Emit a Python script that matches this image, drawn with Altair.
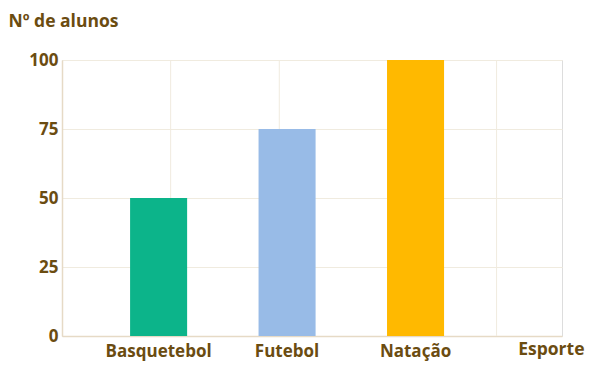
import altair as alt
import pandas as pd

sports = ["Basquetebol", "Futebol", "Natação"]
students = [50, 75, 100]
colors = ["#0cb48a", "#98bbe7", "#ffb900"]
y_ticks = [0, 25, 50, 75, 100]
grid_x = [1, 2, 3, 4]

df = pd.DataFrame({"Esporte": sports, "alunos": students})
grid_df = pd.DataFrame({"g": grid_x})

TXT = "#6b4c11"
FONT = "Open Sans"
GRID = "#f0ebdf"
DOMAIN = "#e6dac6"

grid_layer = alt.Chart(grid_df).mark_rule(color=GRID, strokeWidth=1).encode(
    x=alt.X("g:Q", scale=alt.Scale(domain=[0, 4.602], nice=False, zero=True),
            axis=None),
    y=alt.value(0),
    y2=alt.value(276),
)

bars = alt.Chart(df).mark_bar().encode(
    x=alt.X("Esporte:N", sort=sports,
            scale=alt.Scale(paddingInner=0.556, paddingOuter=0.724, align=0.366),
            axis=alt.Axis(orient="bottom", grid=False, ticks=False, labelAngle=0,
                          labelColor=TXT, labelFont=FONT, labelFontSize=17,
                          labelFontWeight="bold", labelPadding=7,
                          domainColor=DOMAIN, domainWidth=1.5,
                          title="Esporte", titleColor=TXT, titleFont=FONT,
                          titleFontSize=17.5, titleFontWeight="bold",
                          titleAnchor="start", titleAlign="right",
                          titleX=522, titleY=4, titleBaseline="top")),
    y=alt.Y("alunos:Q", scale=alt.Scale(domain=[0, 100], nice=False),
            axis=alt.Axis(values=y_ticks, grid=True, gridColor=GRID, ticks=False,
                          labelColor=TXT, labelFont=FONT, labelFontSize=17,
                          labelFontWeight="bold", labelPadding=4,
                          domainColor=DOMAIN, domainWidth=1.5,
                          title="Nº de alunos", titleColor=TXT, titleFont=FONT,
                          titleFontSize=17.5, titleFontWeight="bold", titleAngle=0,
                          titleAlign="left", titleBaseline="alphabetic",
                          titleX=-54, titleY=-34)),
    color=alt.Color("Esporte:N", sort=sports,
                    scale=alt.Scale(domain=sports, range=colors), legend=None),
)

chart = alt.layer(grid_layer, bars).resolve_scale(x="independent").properties(
    width=500, height=276,
    autosize=alt.AutoSizeParams(type="none"),
    padding={"left": 54, "top": 52, "right": 32, "bottom": 48},
).configure_view(stroke=None).configure(background="white")

chart.save("out.html", embed_options={"renderer": "svg", "actions": False})
